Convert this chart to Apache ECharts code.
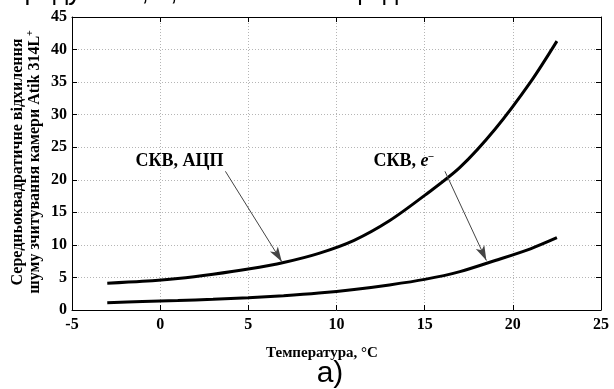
<!DOCTYPE html>
<html>
<head>
<meta charset="utf-8">
<script src="https://cdn.jsdelivr.net/npm/echarts@6/dist/echarts.min.js"></script>
<style>
html,body{margin:0;padding:0;background:#fff;}
#c{width:614px;height:389px;}
</style>
</head>
<body>
<div id="c"></div>
<script>
// Data
var temps   = [-3, -1, 1, 3, 5, 7, 9, 11, 13, 15, 17, 19, 21, 22.5];
var rmsAdc  = [4.1, 4.4, 4.85, 5.5, 6.3, 7.3, 8.7, 10.7, 13.7, 17.6, 21.9, 27.8, 35.0, 41.3];
var rmsE    = [1.1, 1.3, 1.45, 1.65, 1.9, 2.2, 2.6, 3.15, 3.85, 4.7, 5.9, 7.6, 9.4, 11.1];
var xTicks  = [-5, 0, 5, 10, 15, 20, 25];
var yTicks  = [0, 5, 10, 15, 20, 25, 30, 35, 40, 45];
var labelAdc = 'СКВ, АЦП';
var arrowAdc = [[3.7, 21.3], [6.9, 7.4]];
var arrowE   = [[16.15, 21.3], [18.5, 7.6]];
var textAdcPos = [1.1, 22.8];
var textEPos = [13.8, 22.8];

function pairs(xs, ys){ return xs.map(function(x,i){ return [x, ys[i]]; }); }

var serif = '"Liberation Serif","Times New Roman",serif';
var chart = echarts.init(document.getElementById('c'), null, {renderer:'canvas'});
var axisCommon = {
  type:'value',
  axisLine:{show:true, onZero:false, lineStyle:{color:'#000', width:1}},
  axisTick:{show:true, inside:true, length:5, lineStyle:{color:'#000'}},
  splitLine:{show:false}
};
var option = {
  animation:false,
  backgroundColor:'#fff',
  grid:{left:72, top:17, width:529, height:293, show:false},
  xAxis:[
    Object.assign({}, axisCommon, {
      min:-5, max:25, interval:5, position:'bottom',
      axisLabel:{color:'#000', fontFamily:serif, fontWeight:'bold', fontSize:16, margin:7,
        formatter:function(v){ return xTicks.indexOf(v)>=0 ? String(v) : ''; }},
      splitLine:{show:true, lineStyle:{color:'#b5b5b5', type:[1,2], width:1}}
    }),
    Object.assign({}, axisCommon, {min:-5, max:25, interval:5, position:'top', axisLabel:{show:false}})
  ],
  yAxis:[
    Object.assign({}, axisCommon, {
      min:0, max:45, interval:5, position:'left',
      axisLabel:{color:'#000', fontFamily:serif, fontWeight:'bold', fontSize:16, margin:5,
        formatter:function(v){ return yTicks.indexOf(v)>=0 ? String(v) : ''; }},
      splitLine:{show:true, lineStyle:{color:'#b5b5b5', type:[1,2], width:1}}
    }),
    Object.assign({}, axisCommon, {min:0, max:45, interval:5, position:'right', axisLabel:{show:false}})
  ],
  series:[
    {type:'line', data:pairs(temps, rmsAdc), smooth:0.3, showSymbol:false,
     lineStyle:{color:'#000', width:3},
     markLine:{silent:true, symbol:['none','arrow'], symbolSize:[7,15],
       lineStyle:{color:'#444', width:1, type:'solid'}, label:{show:false},
       data:[[{coord:arrowAdc[0]},{coord:arrowAdc[1]}],[{coord:arrowE[0]},{coord:arrowE[1]}]]}},
    {type:'line', data:pairs(temps, rmsE), smooth:0.3, showSymbol:false,
     lineStyle:{color:'#000', width:3}}
  ]
};
chart.setOption(option);

var pA = chart.convertToPixel({gridIndex:0}, textAdcPos);
var pE = chart.convertToPixel({gridIndex:0}, textEPos);
chart.setOption({
  graphic:[
    {type:'text', x:-4, y:-20, style:{text:'передумови, 1, зважаючи на це досить', font:'26px "Liberation Sans", Arial, sans-serif', fill:'#000'}},
    {type:'text', x:pA[0], y:pA[1], style:{text:labelAdc, font:'bold 18px '+serif, fill:'#000', align:'center', verticalAlign:'middle'}},
    {type:'text', x:pE[0], y:pE[1], style:{text:'{n|СКВ, }{e|e}{s|–}',
      rich:{n:{font:'bold 18px '+serif, fill:'#000'}, e:{font:'italic bold 18px '+serif, fill:'#000'}, s:{font:'bold 10px '+serif, fill:'#000', padding:[0,0,10,0]}},
      align:'center', verticalAlign:'middle'}},
    {type:'text', x:18, y:162, rotation:Math.PI/2, style:{text:'Середньоквадратичне відхилення', font:'bold 16px '+serif, fill:'#000', align:'center', verticalAlign:'middle'}},
    {type:'text', x:35, y:162, rotation:Math.PI/2, style:{text:'{n|шуму зчитування камери Atik 314L}{s|+}',
      rich:{n:{font:'bold 16px '+serif, fill:'#000'}, s:{font:'bold 10px '+serif, fill:'#000', padding:[0,0,9,0]}},
      align:'center', verticalAlign:'middle'}},
    {type:'text', x:322, y:353, style:{text:'Температура, °C', font:'bold 15px '+serif, fill:'#000', align:'center', verticalAlign:'middle'}},
    {type:'text', x:330, y:374, style:{text:'a)', font:'30px "Liberation Sans", Arial, sans-serif', fill:'#000', align:'center', verticalAlign:'middle'}}
  ]
});
</script>
</body>
</html>
